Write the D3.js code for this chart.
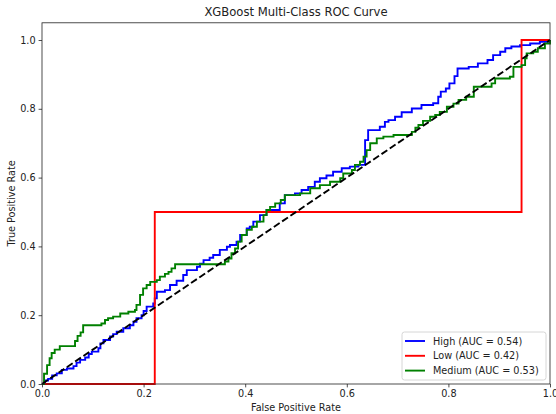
<!DOCTYPE html>
<html><head><meta charset="utf-8">
<script src="https://cdn.jsdelivr.net/npm/d3@7"></script>
<style>body{margin:0;background:#fff}svg{display:block}text{font-family:"DejaVu Sans",sans-serif;fill:#222}</style>
</head><body><svg id="c" width="556" height="414"></svg>
<script>
const chartTitle = "XGBoost Multi-Class ROC Curve";
const xLabel = "False Positive Rate";
const yLabel = "True Positive Rate";
const xTicks = [0, 0.2, 0.4, 0.6, 0.8, 1.0];
const yTicks = [0, 0.2, 0.4, 0.6, 0.8, 1.0];
const seriesNames = ["High (AUC = 0.54)", "Low (AUC = 0.42)", "Medium (AUC = 0.53)"];
const seriesColors = ["blue", "red", "green"];

// step points: horizontal to fpr, then vertical up to tpr
const highFpr = [0,0.006,0.012,0.020,0.029,0.039,0.049,0.062,0.068,0.075,0.085,0.092,0.098,0.111,0.115,0.121,0.134,0.140,0.147,0.160,0.173,0.180,0.186,0.196,0.200,0.206,0.219,0.222,0.226,0.242,0.252,0.265,0.278,0.285,0.305,0.311,0.318,0.330,0.337,0.350,0.364,0.370,0.383,0.390,0.403,0.409,0.416,0.429,0.442,0.468,0.478,0.498,0.511,0.524,0.537,0.547,0.560,0.573,0.590,0.606,0.623,0.636,0.642,0.665,0.675,0.682,0.695,0.708,0.728,0.747,0.770,0.780,0.785,0.795,0.802,0.812,0.818,0.840,0.858,0.877,0.888,0.902,0.912,0.924,0.941,0.961,0.980,1.000];
const highTpr = [0,0.010,0.015,0.025,0.031,0.041,0.045,0.052,0.062,0.070,0.077,0.087,0.094,0.104,0.118,0.128,0.138,0.145,0.152,0.162,0.171,0.181,0.191,0.200,0.212,0.225,0.234,0.249,0.268,0.273,0.288,0.300,0.317,0.331,0.341,0.350,0.360,0.367,0.375,0.390,0.399,0.404,0.414,0.433,0.452,0.457,0.472,0.491,0.506,0.525,0.549,0.554,0.564,0.573,0.588,0.598,0.606,0.617,0.627,0.632,0.637,0.709,0.738,0.748,0.762,0.767,0.777,0.790,0.801,0.811,0.816,0.835,0.850,0.859,0.874,0.895,0.917,0.922,0.932,0.942,0.956,0.966,0.976,0.981,0.985,0.990,0.995,1.000];

const lowFpr = [0, 0.222, 0.944, 1.0];
const lowTpr = [0, 0.5, 1.0, 1.0];

const medFpr = [0,0.004,0.010,0.015,0.019,0.025,0.035,0.065,0.070,0.076,0.081,0.117,0.124,0.130,0.140,0.154,0.170,0.183,0.186,0.193,0.199,0.206,0.213,0.226,0.232,0.242,0.249,0.255,0.262,0.360,0.367,0.373,0.380,0.386,0.393,0.403,0.413,0.423,0.436,0.442,0.449,0.459,0.470,0.478,0.508,0.528,0.547,0.567,0.587,0.593,0.610,0.616,0.626,0.633,0.639,0.646,0.659,0.672,0.692,0.728,0.735,0.741,0.750,0.764,0.774,0.783,0.797,0.810,0.820,0.835,0.850,0.885,0.892,0.921,0.928,0.944,0.951,0.954,0.967,0.976,0.990,1.000];
const medTpr = [0,0.030,0.055,0.075,0.090,0.100,0.110,0.125,0.140,0.150,0.171,0.176,0.186,0.191,0.196,0.205,0.210,0.215,0.230,0.259,0.278,0.288,0.297,0.302,0.312,0.320,0.326,0.336,0.348,0.356,0.365,0.380,0.394,0.414,0.433,0.448,0.457,0.472,0.491,0.506,0.515,0.525,0.535,0.549,0.554,0.569,0.578,0.588,0.598,0.612,0.622,0.637,0.646,0.661,0.680,0.700,0.714,0.719,0.724,0.733,0.745,0.753,0.765,0.777,0.782,0.791,0.806,0.815,0.826,0.835,0.864,0.874,0.888,0.893,0.922,0.927,0.947,0.961,0.966,0.976,0.990,1.000];

const diagX = [0, 1];
const diagY = [0, 1];

const svg = d3.select("#c");
const x = d3.scaleLinear().domain([0, 1]).range([42, 550]);
const y = d3.scaleLinear().domain([0, 1.05]).range([384, 22.8]);

const series = [
  {name: seriesNames[0], color: seriesColors[0], pts: highFpr.map((f,i)=>[f, highTpr[i]])},
  {name: seriesNames[1], color: seriesColors[1], pts: lowFpr.map((f,i)=>[f, lowTpr[i]])},
  {name: seriesNames[2], color: seriesColors[2], pts: medFpr.map((f,i)=>[f, medTpr[i]])}
];

svg.append("defs").append("clipPath").attr("id","clip").append("rect")
  .attr("x", x(0)-1).attr("y", y(1.05)).attr("width", x(1)-x(0)+2).attr("height", y(0)-y(1.05)+1);

const line = d3.line().x(d=>x(d[0])).y(d=>y(d[1])).curve(d3.curveStepAfter);
const g = svg.append("g").attr("clip-path","url(#clip)");
series.forEach(s=>{
  g.append("path").attr("d", line(s.pts)).attr("fill","none")
   .attr("stroke", s.color).attr("stroke-width", 1.9).attr("stroke-linejoin","miter");
});
g.append("path").attr("d", d3.line().x(d=>x(d[0])).y(d=>y(d[1]))(diagX.map((v,i)=>[v, diagY[i]])))
  .attr("fill","none").attr("stroke","black").attr("stroke-width",1.9).attr("stroke-dasharray","7,3");

// axes
const xa = svg.append("g").attr("transform",`translate(0,${y(0)})`)
  .call(d3.axisBottom(x).tickValues(xTicks).tickFormat(d3.format(".1f")).tickSize(3.4).tickPadding(3));
const ya = svg.append("g").attr("transform",`translate(${x(0)},0)`)
  .call(d3.axisLeft(y).tickValues(yTicks).tickFormat(d3.format(".1f")).tickSize(3.4).tickPadding(3));
[xa, ya].forEach(a=>{
  a.select(".domain").remove();
  a.selectAll("text").attr("font-size", 9.7).attr("font-family","DejaVu Sans, sans-serif").attr("fill","#222");
  a.selectAll("line").attr("stroke","#222").attr("stroke-width",0.8);
});

// frame
svg.append("rect").attr("x", x(0)).attr("y", y(1.05)).attr("width", x(1)-x(0)).attr("height", y(0)-y(1.05))
  .attr("fill","none").attr("stroke","#222").attr("stroke-width",0.8);

// titles
svg.append("text").attr("x", (x(0)+x(1))/2).attr("y", 16).attr("text-anchor","middle")
  .attr("font-size", 11.6).text(chartTitle);
svg.append("text").attr("x", (x(0)+x(1))/2).attr("y", 411).attr("text-anchor","middle")
  .attr("font-size", 9.7).text(xLabel);
svg.append("text").attr("transform",`translate(15,${(y(0)+y(1.05))/2}) rotate(-90)`).attr("text-anchor","middle")
  .attr("font-size", 9.7).text(yLabel);

// legend
const lg = svg.append("g");
lg.append("rect").attr("x", 402).attr("y", 332).attr("width", 144).attr("height", 48).attr("rx", 2.5)
  .attr("fill","white").attr("fill-opacity",0.8).attr("stroke","#ccc").attr("stroke-width",0.8);
series.forEach((s,i)=>{
  const yy = 341 + i*14.8;
  lg.append("line").attr("x1", 405).attr("x2", 425).attr("y1", yy).attr("y2", yy)
    .attr("stroke", s.color).attr("stroke-width", 1.9);
  lg.append("text").attr("x", 433).attr("y", yy+3.5).attr("font-size", 9.7).text(s.name);
});
</script></body></html>
